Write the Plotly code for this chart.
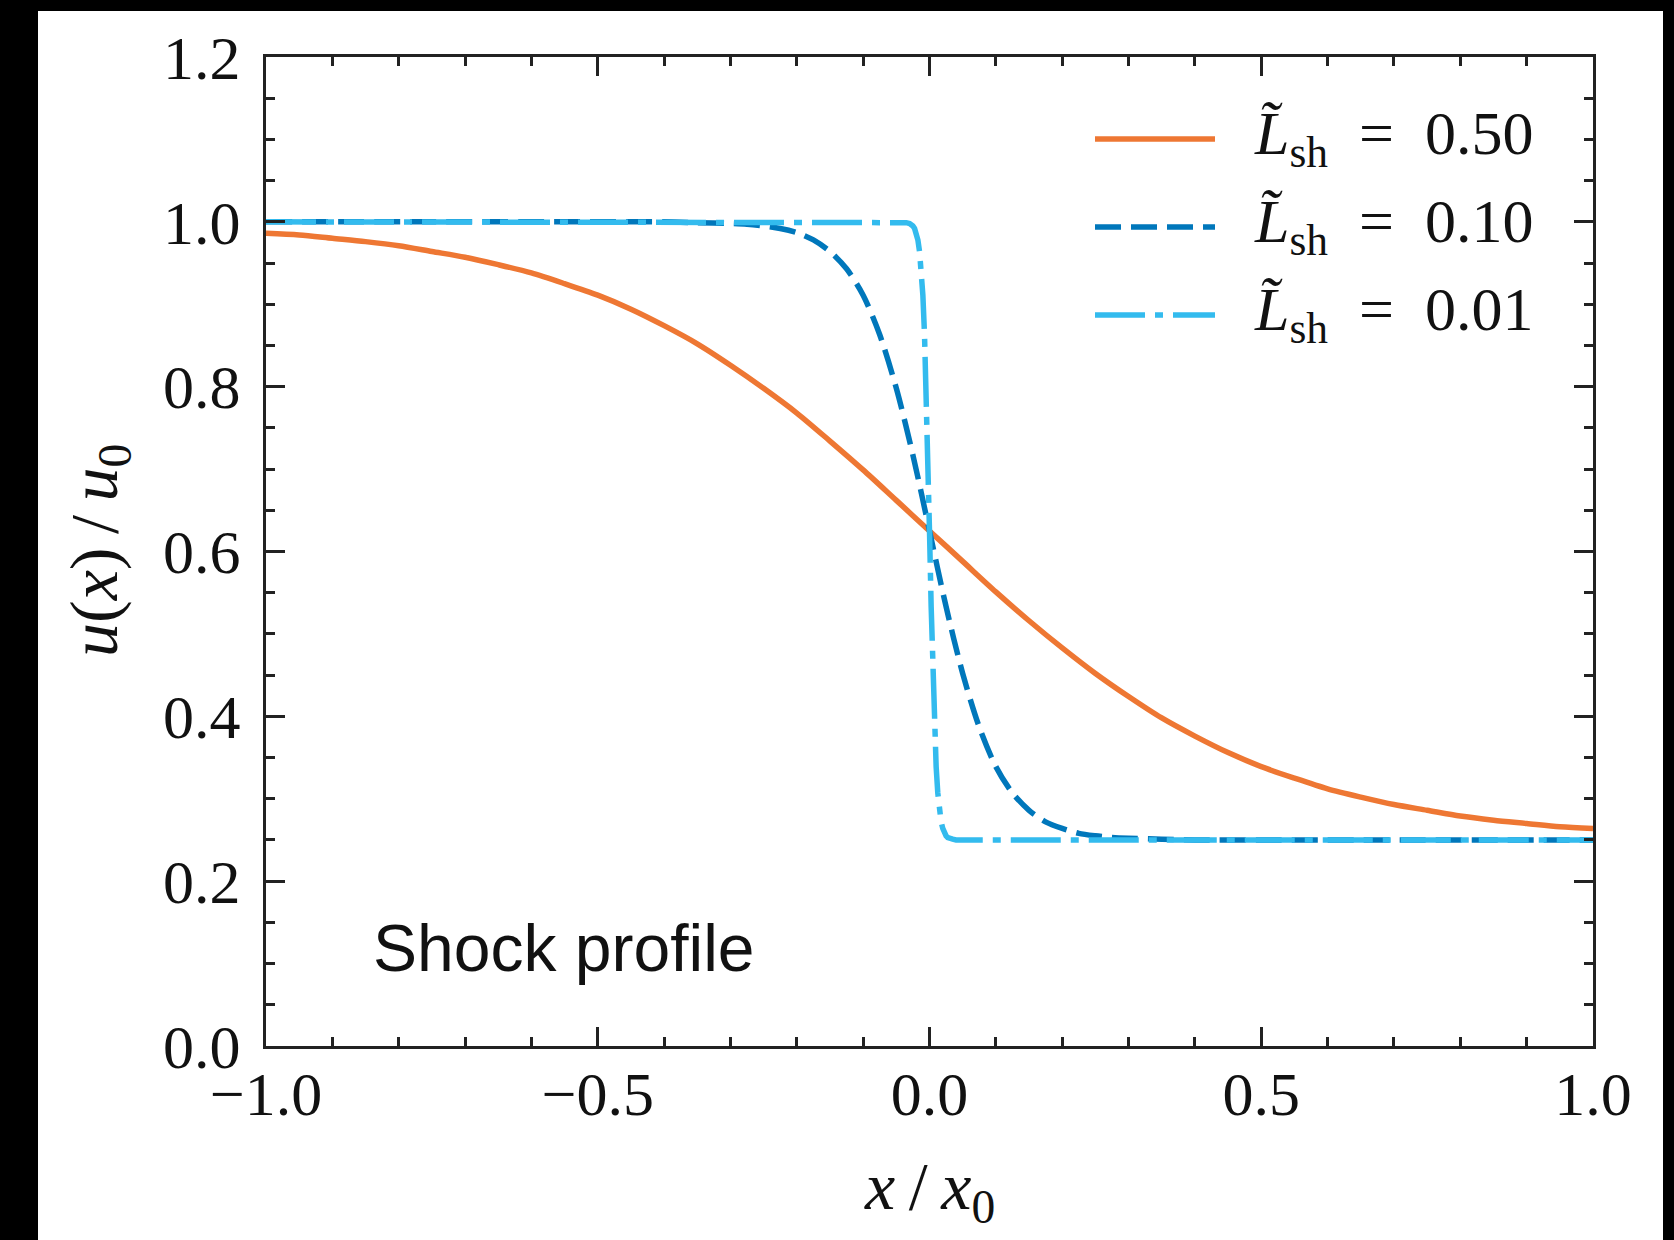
import plotly.graph_objects as go

# ---------------- data ----------------
x_L050 = [-1.0, -0.95, -0.9, -0.85, -0.8, -0.75, -0.7, -0.65, -0.6, -0.55, -0.5,
          -0.45, -0.4, -0.35, -0.3, -0.25, -0.2, -0.15, -0.1, -0.05, 0.0,
          0.05, 0.1, 0.15, 0.2, 0.25, 0.3, 0.35, 0.4, 0.45, 0.5,
          0.55, 0.6, 0.65, 0.7, 0.75, 0.8, 0.85, 0.9, 0.95, 1.0]
u_L050 = [0.986, 0.984, 0.980, 0.976, 0.971, 0.964, 0.957, 0.948, 0.938, 0.925, 0.911,
          0.894, 0.874, 0.852, 0.826, 0.798, 0.768, 0.734, 0.699, 0.662, 0.625,
          0.588, 0.551, 0.516, 0.483, 0.452, 0.424, 0.398, 0.376, 0.356, 0.339,
          0.325, 0.312, 0.302, 0.293, 0.286, 0.279, 0.274, 0.270, 0.266, 0.264]

x_L010 = [-1.0, -0.5, -0.4, -0.35, -0.3, -0.275, -0.25, -0.225, -0.2, -0.175, -0.15,
          -0.125, -0.1, -0.075, -0.05, -0.025, 0.0, 0.025, 0.05, 0.075, 0.1, 0.125,
          0.15, 0.175, 0.2, 0.225, 0.25, 0.275, 0.3, 0.35, 0.4, 0.5, 1.0]
u_L010 = [1.000, 1.000, 1.000, 0.999, 0.998, 0.997, 0.995, 0.992, 0.987, 0.978, 0.964,
          0.943, 0.911, 0.863, 0.798, 0.717, 0.625, 0.533, 0.452, 0.387, 0.339, 0.307,
          0.286, 0.272, 0.264, 0.258, 0.255, 0.253, 0.252, 0.251, 0.250, 0.250, 0.250]

x_L001 = [-1.0, -0.5, -0.1, -0.04, -0.035, -0.03, -0.0275, -0.025, -0.0225, -0.02,
          -0.0175, -0.015, -0.0125, -0.01, -0.0075, -0.005, -0.0025, 0.0, 0.0025, 0.005,
          0.0075, 0.01, 0.0125, 0.015, 0.0175, 0.02, 0.0225, 0.025, 0.0275, 0.03, 0.035,
          0.04, 0.1, 0.5, 1.0]
u_L001 = [1.000, 1.000, 1.000, 1.000, 0.999, 0.998, 0.997, 0.995, 0.992, 0.987,
          0.978, 0.964, 0.943, 0.911, 0.863, 0.798, 0.717, 0.625, 0.533, 0.452,
          0.387, 0.339, 0.307, 0.286, 0.272, 0.264, 0.258, 0.255, 0.253, 0.252, 0.251,
          0.250, 0.250, 0.250, 0.250]

series_labels = ["0.50", "0.10", "0.01"]

x_tickvals = [-1.0, -0.5, 0.0, 0.5, 1.0]
x_ticktext = ["\u22121.0", "\u22120.5", "0.0", "0.5", "1.0"]
y_tickvals = [0.0, 0.2, 0.4, 0.6, 0.8, 1.0, 1.2]
y_ticktext = ["0.0", "0.2", "0.4", "0.6", "0.8", "1.0", "1.2"]

# ---------------- styling ----------------
W, H = 1674, 1240
ML, MR, MT, MB = 266, 81, 57, 194
PW, PH = W - ML - MR, H - MT - MB

ORANGE = "#EE7733"
BLUE = "#0077BB"
CYAN = "#33BBEE"
DASH_2 = "26px,10px"
DASH_DOT = "50px,10px,8px,10px"
SERIF = "Liberation Serif"
FS = 62
FS_TITLE = 68
LW = 5.5
NB = "\u00a0"
TS = "\u2009"


def px_x(p):
    return (p - ML) / PW


def px_y(p):
    return (MT + PH - p) / PH


fig = go.Figure()
styles = [(x_L050, u_L050, ORANGE, "solid", "spline"),
          (x_L010, u_L010, BLUE, DASH_2, "spline"),
          (x_L001, u_L001, CYAN, DASH_DOT, "linear")]
for (xs, ys, col, dash, shape), lab in zip(styles, series_labels):
    line = dict(color=col, width=LW, dash=dash, shape=shape)
    if shape == "spline":
        line["smoothing"] = 0.8
    fig.add_trace(go.Scatter(x=xs, y=ys, mode="lines", name=lab, showlegend=False,
                             line=line))

axis_common = dict(showline=True, linecolor="#222222", linewidth=3, mirror="ticks",
                   ticks="inside", ticklen=19, tickwidth=3, tickcolor="#222222",
                   showgrid=False, zeroline=False,
                   tickfont=dict(family=SERIF, size=FS, color="#111111"))

fig.update_xaxes(range=[-1.0, 1.0], tickvals=x_tickvals, ticktext=x_ticktext,
                 minor=dict(ticks="inside", ticklen=9, tickwidth=3, tickcolor="#222222",
                            dtick=0.1, tick0=0.0),
                 ticklabelstandoff=-8, **axis_common)
fig.update_yaxes(range=[0.0, 1.2], tickvals=y_tickvals, ticktext=y_ticktext,
                 minor=dict(ticks="inside", ticklen=9, tickwidth=3, tickcolor="#222222",
                            dtick=0.05, tick0=0.0),
                 ticklabelstandoff=10, **axis_common)

shapes = []
annotations = []

# legend keys and labels
legend_rows = [139, 227, 315]
for (xs, ys, col, dash, shape), lab, ry in zip(styles, series_labels, legend_rows):
    shapes.append(dict(type="line", xref="paper", yref="paper",
                       x0=px_x(1095), x1=px_x(1215), y0=px_y(ry), y1=px_y(ry),
                       line=dict(color=col, width=LW, dash=dash)))
    annotations.append(dict(xref="paper", yref="paper", x=px_x(1252), y=px_y(ry - 2),
                            xanchor="left", yanchor="middle", showarrow=False,
                            text="<i>L\u0303</i><sub>sh</sub>" + NB * 2 + "=" + NB * 2 + lab,
                            font=dict(family=SERIF, size=FS, color="#111111")))

# axis titles
annotations.append(dict(xref="paper", yref="paper", x=px_x(929), y=px_y(1190),
                        xanchor="center", yanchor="middle", showarrow=False,
                        text="<i>x</i>" + TS + "/" + TS + "<i>x</i><sub>0</sub>",
                        font=dict(family=SERIF, size=FS_TITLE, color="#111111")))
annotations.append(dict(xref="paper", yref="paper", x=px_x(98), y=px_y(551),
                        xanchor="center", yanchor="middle", showarrow=False,
                        textangle=-90,
                        text="<i>u</i>(<i>x</i>)" + TS + "/" + TS + "<i>u</i><sub>0</sub>",
                        font=dict(family=SERIF, size=FS_TITLE, color="#111111")))

# in-plot label
annotations.append(dict(xref="paper", yref="paper", x=px_x(371), y=px_y(948),
                        xanchor="left", yanchor="middle", showarrow=False,
                        text="Shock profile",
                        font=dict(family="Liberation Sans", size=66, color="#111111")))

# black frame strips
for (a, b, c, d) in [(0, 0, 38, H), (0, 0, W, 11), (1663, 0, W, H)]:
    shapes.append(dict(type="rect", xref="paper", yref="paper", layer="above",
                       x0=px_x(a), x1=px_x(c), y0=px_y(d), y1=px_y(b),
                       line=dict(width=0), fillcolor="black"))

fig.update_layout(width=W, height=H, margin=dict(l=ML, r=MR, t=MT, b=MB),
                  paper_bgcolor="white", plot_bgcolor="white",
                  shapes=shapes, annotations=annotations, showlegend=False)

fig.write_html("out.html", config={"displayModeBar": False},
               post_script="document.body.style.margin='0';"
                           "document.body.style.overflow='hidden';")
